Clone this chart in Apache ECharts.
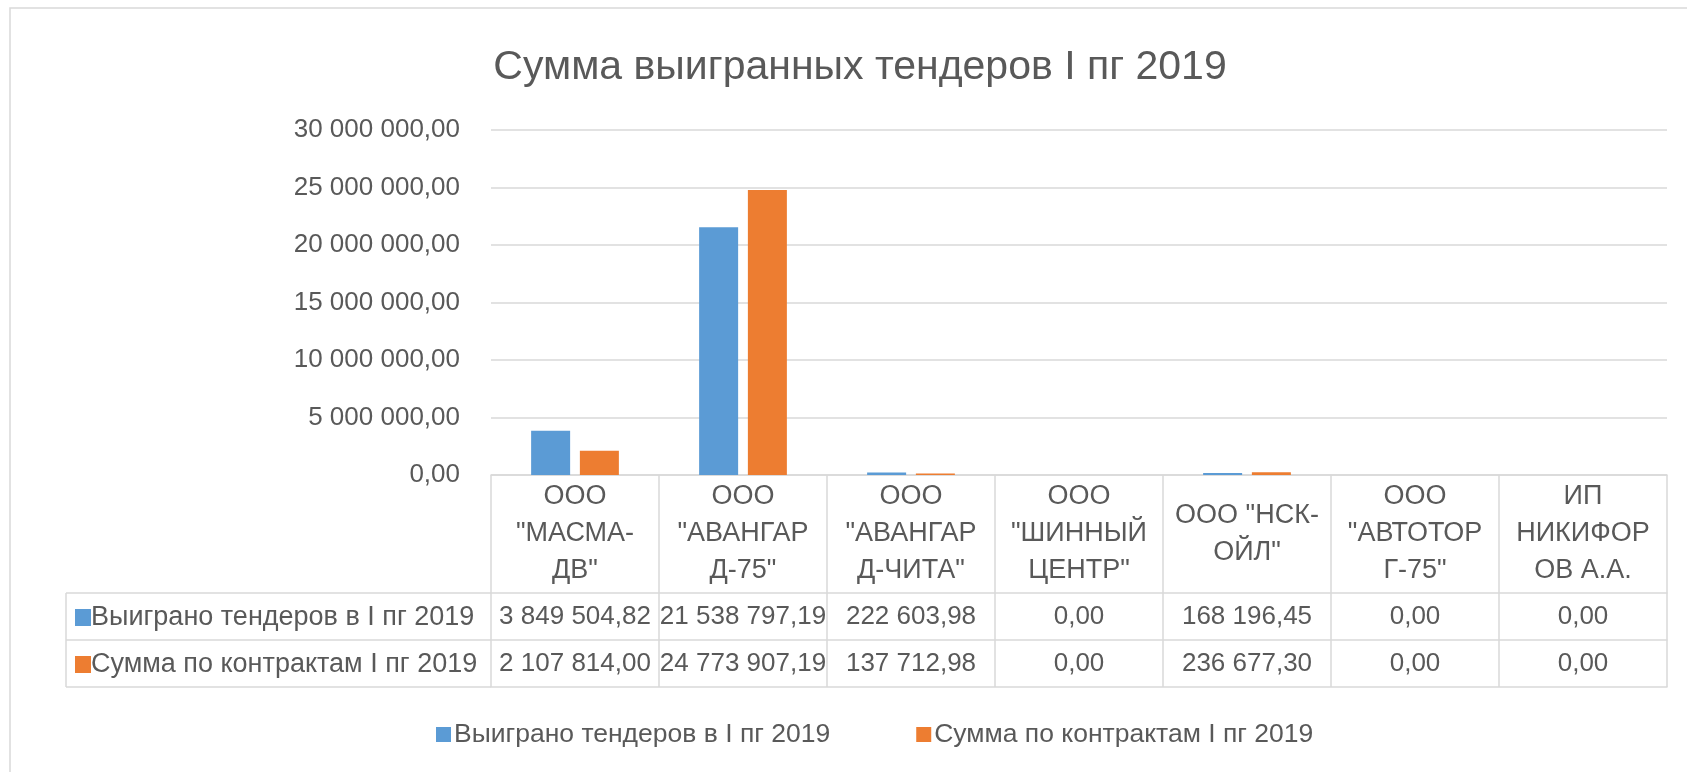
<!DOCTYPE html>
<html>
<head>
<meta charset="utf-8">
<script src="https://cdn.jsdelivr.net/npm/echarts@6/dist/echarts.min.js"></script>
<style>
  html, body { margin: 0; padding: 0; background: #fff; }
  #content { width: 1687px; height: 772px; }
</style>
</head>
<body>
<div id="content"></div>
<script>
var categories = [
  'ООО\n"МАСМА-\nДВ"',
  'ООО\n"АВАНГАР\nД-75"',
  'ООО\n"АВАНГАР\nД-ЧИТА"',
  'ООО\n"ШИННЫЙ\nЦЕНТР"',
  'ООО "НСК-\nОЙЛ"',
  'ООО\n"АВТОТОР\nГ-75"',
  'ИП\nНИКИФОР\nОВ А.А.'
];
var seriesNames = ['Выиграно тендеров в I пг 2019', 'Сумма по контрактам I пг 2019'];
var won = [3849504.82, 21538797.19, 222603.98, 0, 168196.45, 0, 0];
var contracts = [2107814.00, 24773907.19, 137712.98, 0, 236677.30, 0, 0];
var yTicks = [0, 5000000, 10000000, 15000000, 20000000, 25000000, 30000000];

var colors = ['#5B9BD5', '#ED7D31'];
var textColor = '#595959';
var lineColor = '#D9D9D9';
var font = 'Liberation Sans';

// 3849504.82 -> "3 849 504,82"
function fmt(v) {
  var parts = v.toFixed(2).split('.');
  return parts[0].replace(/\B(?=(\d{3})+(?!\d))/g, ' ') + ',' + parts[1];
}

var chartDom = document.getElementById('content');
var myChart = echarts.init(chartDom);

var gridLeft = 491, gridTop = 130, gridBottom = 297;
var axisY = 772 - gridBottom;     // 475
var rowLines = [axisY + 118, axisY + 165, axisY + 212];

function rowLabelAxis(values, offset, showLabel) {
  return {
    type: 'category',
    position: 'bottom',
    offset: offset,
    data: categories,
    axisLine: { show: true, lineStyle: { color: lineColor, width: 1.5 } },
    axisTick: { show: false },
    axisLabel: {
      show: showLabel,
      interval: 0,
      margin: 24,
      verticalAlign: 'middle',
      color: textColor,
      fontSize: 26,
      fontFamily: font,
      formatter: function (val, idx) { return values ? fmt(values[idx]) : ''; }
    }
  };
}

var option = {
  animation: false,
  backgroundColor: '#fff',
  title: {
    text: 'Сумма выигранных тендеров I пг 2019',
    left: 855,
    top: 42,
    textAlign: 'center',
    textStyle: { color: textColor, fontSize: 41, fontWeight: 'normal', fontFamily: font }
  },
  grid: { left: gridLeft, right: 20, top: gridTop, bottom: gridBottom, containLabel: false },
  legend: {
    data: seriesNames,
    left: 431,
    top: 716,
    icon: 'rect',
    itemWidth: 15,
    itemHeight: 15,
    itemGap: 86,
    textStyle: { color: textColor, fontSize: 26.5, fontFamily: font, padding: [0, 0, 0, -2] }
  },
  xAxis: [
    {
      type: 'category',
      position: 'bottom',
      data: categories,
      axisLine: { show: true, lineStyle: { color: lineColor, width: 1.5 } },
      axisTick: { show: true, length: 212, lineStyle: { color: lineColor, width: 1.5 } },
      axisLabel: {
        interval: 0,
        margin: 59,
        verticalAlign: 'middle',
        lineHeight: 37,
        color: textColor,
        fontSize: 27,
        fontFamily: font
      }
    },
    rowLabelAxis(won, 118, true),
    rowLabelAxis(contracts, 165, true),
    rowLabelAxis(null, 212, false)
  ],
  yAxis: {
    type: 'value',
    min: yTicks[0],
    max: yTicks[yTicks.length - 1],
    interval: yTicks[1] - yTicks[0],
    axisLine: { show: false },
    axisTick: { show: false },
    splitLine: { lineStyle: { color: lineColor, width: 1.5 } },
    axisLabel: { color: textColor, fontSize: 26, fontFamily: font, margin: 31, formatter: fmt }
  },
  series: [
    {
      name: seriesNames[0],
      type: 'bar',
      data: won,
      barWidth: 39,
      barGap: '25%',
      itemStyle: { color: colors[0] }
    },
    {
      name: seriesNames[1],
      type: 'bar',
      data: contracts,
      barWidth: 39,
      barGap: '25%',
      itemStyle: { color: colors[1] }
    }
  ],
  graphic: [
    // chart area border (left and top edges visible)
    { type: 'rect', shape: { x: 10, y: 8, width: 1720, height: 820 }, style: { fill: 'none', stroke: lineColor, lineWidth: 1.5 }, silent: true },
    // row header part of the data table
    { type: 'line', shape: { x1: 66, y1: rowLines[0], x2: gridLeft, y2: rowLines[0] }, style: { stroke: lineColor, lineWidth: 1.5 } },
    { type: 'line', shape: { x1: 66, y1: rowLines[1], x2: gridLeft, y2: rowLines[1] }, style: { stroke: lineColor, lineWidth: 1.5 } },
    { type: 'line', shape: { x1: 66, y1: rowLines[2], x2: gridLeft, y2: rowLines[2] }, style: { stroke: lineColor, lineWidth: 1.5 } },
    { type: 'line', shape: { x1: 66, y1: rowLines[0], x2: 66, y2: rowLines[2] }, style: { stroke: lineColor, lineWidth: 1.5 } },
    {
      type: 'text', x: 75, y: (rowLines[0] + rowLines[1]) / 2 + 1,
      style: {
        text: '{sq|}' + seriesNames[0], verticalAlign: 'middle', fill: textColor, fontSize: 27, fontFamily: font,
        rich: { sq: { width: 16, height: 17, backgroundColor: colors[0] } }
      }
    },
    {
      type: 'text', x: 75, y: (rowLines[1] + rowLines[2]) / 2 + 1,
      style: {
        text: '{sq|}' + seriesNames[1], verticalAlign: 'middle', fill: textColor, fontSize: 27, fontFamily: font,
        rich: { sq: { width: 16, height: 17, backgroundColor: colors[1] } }
      }
    }
  ]
};
myChart.setOption(option);
</script>
</body>
</html>
